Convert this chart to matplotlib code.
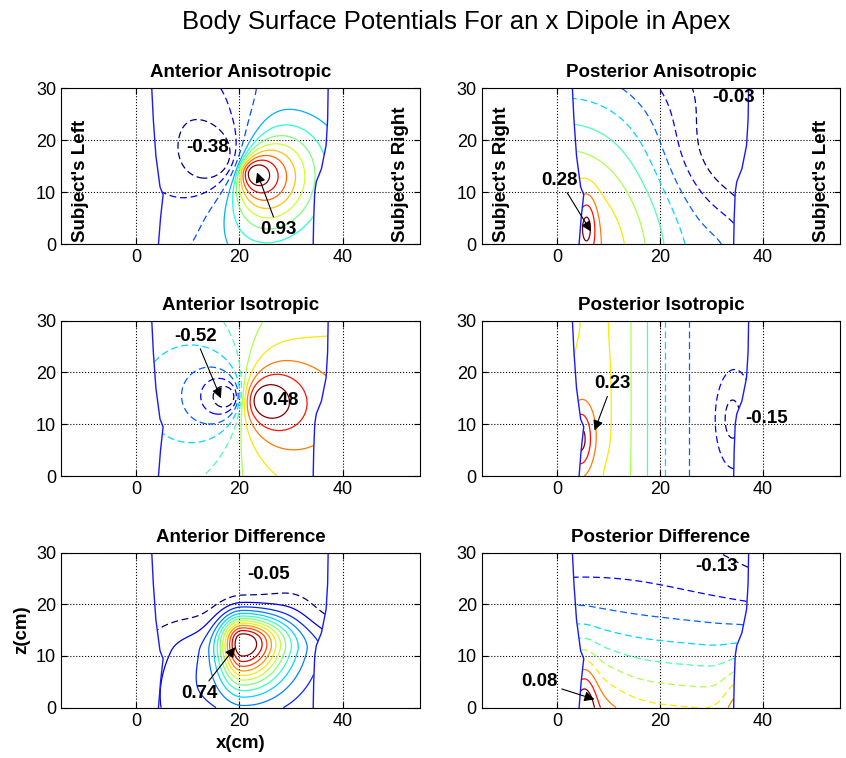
import numpy as np
import matplotlib
matplotlib.use("Agg")
import matplotlib.pyplot as plt

plt.rcParams['font.family'] = ['Liberation Sans', 'DejaVu Sans']
plt.rcParams['lines.dashed_pattern'] = (5.5, 3.0)

# torso outline, x (cm) of each side at given heights z (cm)
left_z = [0, 5, 9.5, 11, 17, 24, 30]
left_x = [4.3, 4.7, 5.2, 4.6, 3.8, 3.3, 3.0]
right_z = [0, 5, 10, 12, 14.5, 19, 24, 30]
right_x = [34.3, 34.4, 34.6, 34.9, 35.9, 36.8, 37.1, 37.2]

titles = ["Anterior Anisotropic", "Posterior Anisotropic",
          "Anterior Isotropic", "Posterior Isotropic",
          "Anterior Difference", "Posterior Difference"]

# contour levels of each map (lowest, highest, count); colours span that range
level_specs = [(-0.28, 0.82, 11), (-0.03, 0.27, 10), (-0.43, 0.39, 10),
               (-0.14, 0.211, 10), (-0.006, 0.684, 13), (-0.111, 0.061, 10)]
dash_below = [0.0, 0.08, 0.0, 0.0, 0.0, 0.01]

# potential maps: offset + slopes, gaussian patches, surface dipole
planes = [(0.0, 0.0, 0.0), (-0.099, 0.0, 0.0), (0.0, 0.0, 0.0),
          (-0.095, 0.0, 0.0), (-0.05, 0.0, 0.0), (-0.064, -0.0004, -0.0047)]
# patch: (x, z, amp, sx, sz) or (x, z, amp, sx left, sx right, sz below, sz above)
bumps = [
    [(33, 30, -0.05, 6, 6), (8, 30, -0.07, 9, 6), (10, 0, -0.03, 5, 5)],
    [(2, -4, 0.317, 20, 28.6), (5.8, 3.5, 0.08, 1.3, 4), (29, 17, -0.035, 7, 7),
     (34, -2, 0.04, 5, 6)],
    [(28, 14, 0.03, 3, 3), (33, 30, -0.04, 7, 7)],
    [(6.5, 15, 0.205, 10, 1000), (4.5, 7, 0.12, 1.8, 4.5), (8, 0, -0.012, 3, 4),
     (4, 30, -0.012, 4, 6), (34, 11, -0.065, 2, 5)],
    [(20.5, 13.2, 0.62, 3.0, 5.5, 6.0, 3.6), (24, 11, 0.2, 11, 14, 14, 4),
     (30, 18.5, 0.05, 4, 4, 5, 4), (8, 0, 0.08, 6, 10)],
    [(3, 0, 0.035, 6, 9), (5.5, 0, 0.042, 1.6, 6.5), (36, 0, 0.04, 2.5, 6),
     (20, 36, 0.043, 21.5, 8)],
]
# (x, z, angle deg, + strength, + core, + lobe power, + reach,
#  - strength, - core, - lobe power)
dipoles = [(19.5, 15.0, -22, 7.8, 4.2, 1.2, 18.0, 3.7, 4.6, 1.0), None,
           (20.5, 15.0, -5, 4.2, 4.5, 1.0, 1e6, 3.1, 3.0, 1.0), None, None, None]

# peak labels: text, text x, text z, arrow tip (or None)
peak_labels = [
    [("-0.38", 13.9, 18.5, None), ("0.93", 27.5, 2.8, (23.4, 13.8))],
    [("0.28", 0.5, 12.3, (6.6, 2.4)), ("-0.03", 34.2, 28.3, None)],
    [("-0.52", 11.4, 27.0, (16.4, 15.0)), ("0.48", 27.9, 14.6, None)],
    [("0.23", 10.7, 17.8, (7.3, 8.8)), ("-0.15", 40.6, 11.1, None)],
    [("-0.05", 25.6, 25.8, None), ("0.74", 12.2, 2.8, (19.2, 11.7))],
    [("-0.13", 30.9, 27.4, None), ("0.08", -3.4, 5.0, (7.3, 1.6))],
]
side_labels = [("Subject's Left", "Subject's Right"),
               ("Subject's Right", "Subject's Left")]

positions = [[0.0721, 0.6781, 0.4243, 0.2054], [0.5694, 0.6781, 0.4239, 0.2054],
             [0.0721, 0.3720, 0.4243, 0.2049], [0.5694, 0.3720, 0.4239, 0.2049],
             [0.0721, 0.0664, 0.4243, 0.2045], [0.5694, 0.0664, 0.4239, 0.2045]]


def patch(X, Z, p):
    if len(p) == 5:
        x0, z0, amp, sx, sz = p
        sxl = sxr = sx
        szd = szu = sz
    else:
        x0, z0, amp, sxl, sxr, szd, szu = p
    sx = np.where(X < x0, sxl, sxr)
    sz = np.where(Z < z0, szd, szu)
    return amp * np.exp(-0.5 * (((X - x0) / sx) ** 2 + ((Z - z0) / sz) ** 2))


def potential(X, Z, plane, patches, dipole):
    c0, cx, cz = plane
    F = c0 + cx * (X - 20) + cz * (Z - 15)
    for p in patches:
        F = F + patch(X, Z, p)
    if dipole is not None:
        xc, zc, ang, a_p, e_p, n_p, l_p, a_n, e_n, n_n = dipole
        dx, dz = X - xc, Z - zc
        r = np.hypot(dx, dz) + 1e-9
        cos = (np.cos(np.radians(ang)) * dx + np.sin(np.radians(ang)) * dz) / r
        pos = a_p * np.abs(cos) ** n_p * r / (r ** 2 + e_p ** 2) * np.exp(-(r / l_p) ** 4)
        neg = -a_n * np.abs(cos) ** n_n * r / (r ** 2 + e_n ** 2)
        F = F + np.where(cos > 0, pos, neg)
    return F


xs = np.arange(2.0, 39.0, 0.1)
zs = np.arange(0.0, 30.05, 0.1)
X, Z = np.meshgrid(xs, zs)
inside = (X >= np.interp(Z, left_z, left_x)) & (X <= np.interp(Z, right_z, right_x))

fig = plt.figure(figsize=(8.46, 7.58), dpi=100)
fig.text(0.539, 0.971, "Body Surface Potentials For an x Dipole in Apex",
         ha='center', va='center', fontsize=18.5)

for i in range(6):
    ax = fig.add_axes(positions[i])
    F = potential(X, Z, planes[i], bumps[i], dipoles[i])
    F = np.ma.masked_where(~inside, F)

    lv = np.linspace(*level_specs[i])
    norm = plt.Normalize(lv[0], lv[-1])
    cols = [plt.cm.jet(norm(v)) for v in lv]
    styles = ['dashed' if v < dash_below[i] else 'solid' for v in lv]
    ax.contour(X, Z, F, levels=lv, colors=cols, linestyles=styles, linewidths=0.9)

    ax.plot(left_x, left_z, color=(0.1, 0.1, 0.95), lw=1)
    ax.plot(right_x, right_z, color=(0.1, 0.1, 0.95), lw=1)

    for txt, tx, tz, tip in peak_labels[i]:
        if tip is None:
            ax.text(tx, tz, txt, ha='center', va='center',
                    fontsize=13.5, fontweight='bold')
        else:
            ax.annotate(txt, xy=tip, xytext=(tx, tz), ha='center', va='center',
                        fontsize=13.5, fontweight='bold',
                        arrowprops=dict(arrowstyle='-|>', color='k', lw=0.8,
                                        mutation_scale=15, shrinkA=1, shrinkB=0))

    if i < 2:
        lft, rgt = side_labels[i]
        ax.text(-10.8, 0.3, lft, rotation=90, ha='center', va='bottom',
                fontsize=13.5, fontweight='bold')
        ax.text(51.3, 0.3, rgt, rotation=90, ha='center', va='bottom',
                fontsize=13.5, fontweight='bold')

    ax.set_xlim(-14.6, 55.0)
    ax.set_ylim(0, 30)
    ax.set_xticks([0, 20, 40])
    ax.set_yticks([0, 10, 20, 30])
    ax.grid(True, linestyle=':', color='k', linewidth=0.8)
    ax.tick_params(direction='in', top=True, right=True, labelsize=13, length=4)
    ax.set_title(titles[i], fontsize=13.5, fontweight='bold', pad=8)

    if i == 4:
        ax.set_xlabel('x(cm)', fontsize=13.5, fontweight='bold', labelpad=4)
        ax.set_ylabel('z(cm)', fontsize=13.5, fontweight='bold', labelpad=4)

fig.savefig("out.png", dpi=100)
